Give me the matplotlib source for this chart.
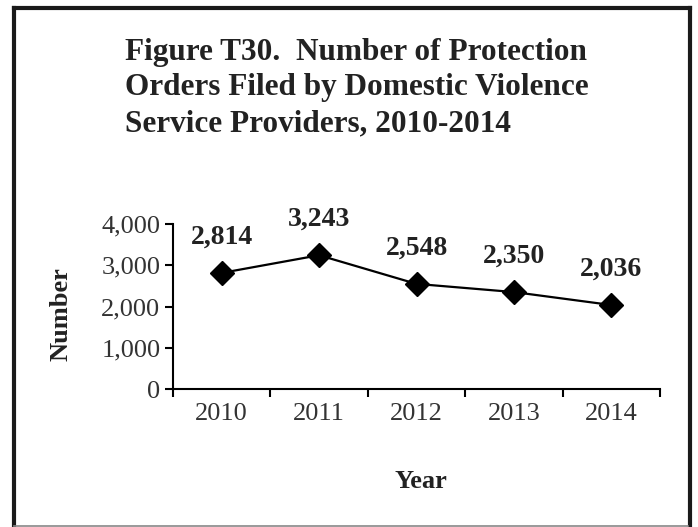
import matplotlib
matplotlib.use('Agg')
import matplotlib.pyplot as plt
from matplotlib.lines import Line2D
from matplotlib.ticker import FuncFormatter

# data
years = ['2010', '2011', '2012', '2013', '2014']
orders = [2814, 3243, 2548, 2350, 2036]
y_ticks = [0, 1000, 2000, 3000, 4000]

title = ('Figure T30.  Number of Protection\n'
         'Orders Filed by Domestic Violence\n'
         'Service Providers, 2010-2014')

plt.rcParams['font.family'] = ['Liberation Serif', 'DejaVu Serif']

W, H = 698, 527
fig = plt.figure(figsize=(W / 100, H / 100), dpi=100)
ax = fig.add_axes([173 / W, 1 - 389 / H, (660 - 173) / W, (389 - 224) / H])

x = list(range(len(years)))
ax.plot(x, orders, color='black', lw=1.6, marker='D', ms=12, mfc='black', mec='black')

for xi, v in zip(x, orders):
    ax.annotate(f'{v:,}', (xi, v), xytext=(0, 26), textcoords='offset points',
                ha='center', va='center', fontsize=20, fontweight='bold', color='#222222')

ax.set_xlim(-0.5, len(years) - 0.5)
ax.set_ylim(0, 4000)
ax.set_yticks(y_ticks)
ax.yaxis.set_major_formatter(FuncFormatter(lambda v, p: f'{int(v):,}'))

# ticks on category boundaries, labels in the middle
ax.set_xticks([i - 0.5 for i in range(len(years) + 1)])
ax.set_xticklabels([])
ax.set_xticks(x, minor=True)
ax.set_xticklabels(years, minor=True)
ax.tick_params(axis='x', which='minor', length=0, pad=10, labelsize=19, labelcolor='#333333')
ax.tick_params(axis='x', which='major', direction='out', length=6, width=1.5)
ax.tick_params(axis='y', direction='out', length=6, width=1.5, labelsize=19, labelcolor='#333333', pad=3)

for s in ['top', 'right']:
    ax.spines[s].set_visible(False)
for s in ['left', 'bottom']:
    ax.spines[s].set_linewidth(1.5)

fig.text(61 / W, 1 - 314 / H, 'Number', rotation=90, ha='center', va='center',
         fontsize=19, fontweight='bold', color='#222222')
fig.text(421 / W, 1 - 482 / H, 'Year', ha='center', va='center',
         fontsize=19, fontweight='bold', color='#222222')
fig.text(125 / W, 1 - 88 / H, title, ha='left', va='center', fontsize=22.5,
         fontweight='bold', color='#222222', linespacing=1.3)

# page border
def px_line(x0, y0, x1, y1, lw, c):
    fig.add_artist(Line2D([x0 / W, x1 / W], [1 - y0 / H, 1 - y1 / H],
                          transform=fig.transFigure, lw=lw, color=c, solid_capstyle='projecting'))

px_line(14, 8, 690, 8, 3, '#1a1a1a')
px_line(14, 8, 14, 527, 3, '#1a1a1a')
px_line(690, 8, 690, 527, 3, '#1a1a1a')
px_line(14, 525.5, 688, 525.5, 1.2, '#888888')

fig.savefig('out.png', dpi=100)
